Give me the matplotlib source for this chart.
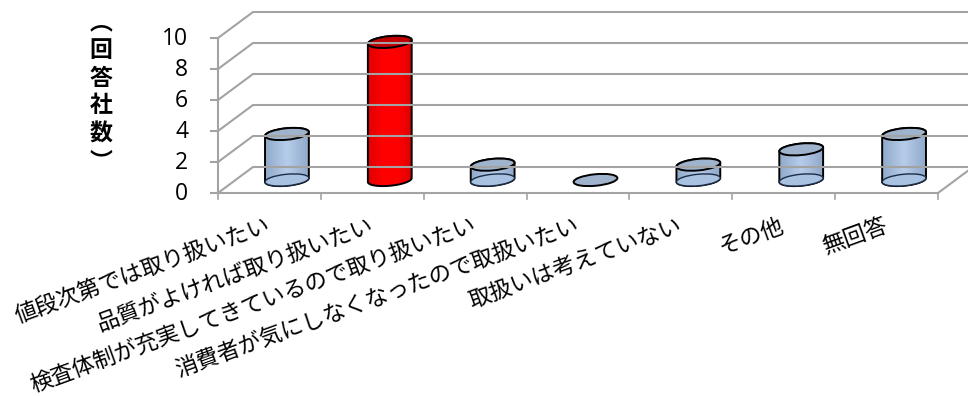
import matplotlib
matplotlib.use('Agg')
import matplotlib.pyplot as plt
import numpy as np
from matplotlib.patches import Ellipse, Polygon
from matplotlib.colors import LinearSegmentedColormap
from matplotlib.transforms import IdentityTransform

plt.rcParams['font.family'] = ['Noto Sans CJK JP', 'DejaVu Sans']

categories = ['値段次第では取り扱いたい', '品質がよければ取り扱いたい', '検査体制が充実してきているので取り扱いたい',
              '消費者が気にしなくなったので取扱いたい', '取扱いは考えていない', 'その他', '無回答']
values = [3, 9, 1, 0, 1, 2, 3]
y_ticks = [0, 2, 4, 6, 8, 10]
y_label = '︵回答社数︶'

W, H = 968, 396
x0, x1, y0, y10 = 218, 938, 193, 38   # pixel box of the front plane
dx, dy = 35, 26                       # 3d depth shift

fig = plt.figure(figsize=(W / 100, H / 100), dpi=100)
ax = fig.add_axes([x0 / W, 1 - y0 / H, (x1 - x0) / W, (y0 - y10) / H])
ax.set_xlim(0, len(categories))
ax.set_ylim(0, 10)
ax.axis('off')

disp = IdentityTransform()
grid = '#a3a3a3'


def px(x, y):
    return ax.transData.transform((x, y))


def line(xs, ys, lw=1.5, z=1):
    fig.add_artist(plt.Line2D(xs, ys, color=grid, lw=lw, transform=disp, zorder=z))


# walls
for t in y_ticks:
    a = px(0, t)
    line([a[0], a[0] + dx, W + 5], [a[1], a[1] + dy, a[1] + dy])
    line([a[0] - 7, a[0]], [a[1], a[1]])
    ax.annotate(str(t), (0, t), xytext=(-30 * 0.72, -1), textcoords='offset points', ha='right', va='center',
                fontsize=16.5, family=['Open Sans'], color='black', annotation_clip=False)
a = px(0, 0)
b = px(0, 10)
line([a[0], b[0]], [a[1], b[1]])
c = px(len(categories), 0)
line([a[0], c[0]], [a[1], c[1]])
line([c[0], c[0] + dx], [c[1], c[1] + dy])
for i in range(len(categories) + 1):
    t = px(i, 0)
    line([t[0], t[0]], [t[1], t[1] - 6], lw=1.2)

# cylinders
w, h, tilt = 44, 11.5, 5.5
shade_blue = LinearSegmentedColormap.from_list('b', ['#8fa8c8', '#b6cdea', '#8fa8c8'])
shade_red = LinearSegmentedColormap.from_list('r', ['#dc0000', '#ff0000', '#ff0000', '#dc0000'])
ramp = np.linspace(0, 1, 64).reshape(1, -1)
for i, v in enumerate(values):
    red = v == max(values)
    p = px(i + 0.5, 0)
    cx, base = p[0] + 17.5, p[1] + 13
    top = base + (px(0, v)[1] - p[1]) * 0.99
    top_col = '#c00000' if red else '#9fb3cd'
    if v > 0:
        # body outline with the two half ellipses
        th = np.linspace(0, np.pi, 40)
        r = np.radians(tilt)
        ex = w / 2 * np.cos(th)
        ey = h / 2 * np.sin(th)
        ux = ex * np.cos(r) - ey * np.sin(r)
        uy = ex * np.sin(r) + ey * np.cos(r)
        pts = np.vstack([np.c_[cx - ux, base - uy], np.c_[cx + ux, top + uy]])
        body = Polygon(pts, closed=True, fc='none', ec='black', lw=1.4, transform=disp, zorder=3)
        im = ax.imshow(ramp, cmap=shade_red if red else shade_blue, aspect='auto', transform=disp,
                       extent=(cx - w / 2 - 1, cx + w / 2 + 1, base - 10, top + 10), zorder=2)
        ax.set_xlim(0, len(categories))
        ax.set_ylim(0, 10)
        ax.add_patch(body)
        im.set_clip_path(body)
        body.set_clip_on(False)
        if not red:
            ax.add_patch(Ellipse((cx, base), w, h, angle=tilt, fc='#a9c2e2', ec='#1c2c44', lw=1.0, transform=disp,
                                 zorder=3, clip_on=False))
    ax.add_patch(Ellipse((cx, top), w, h, angle=tilt, fc=top_col, ec='black', lw=1.4, transform=disp, zorder=4,
                         clip_on=False))

# category labels, upper right end under each tick slot
for i, lab in enumerate(categories):
    ax.annotate(lab, (i + 0.5, 0), xytext=(0, -32 * 0.72), textcoords='offset points', ha='right', va='center',
                rotation=20, rotation_mode='anchor', fontsize=16.2, color='black', annotation_clip=False)

# stacked y label, one character per line
fig.text(101 / W, 1 - 92 / H, '\n'.join(y_label), ha='center', va='center', fontsize=16.5, fontweight='bold',
         linespacing=1.27, color='black')

fig.savefig('out.png', dpi=100)
